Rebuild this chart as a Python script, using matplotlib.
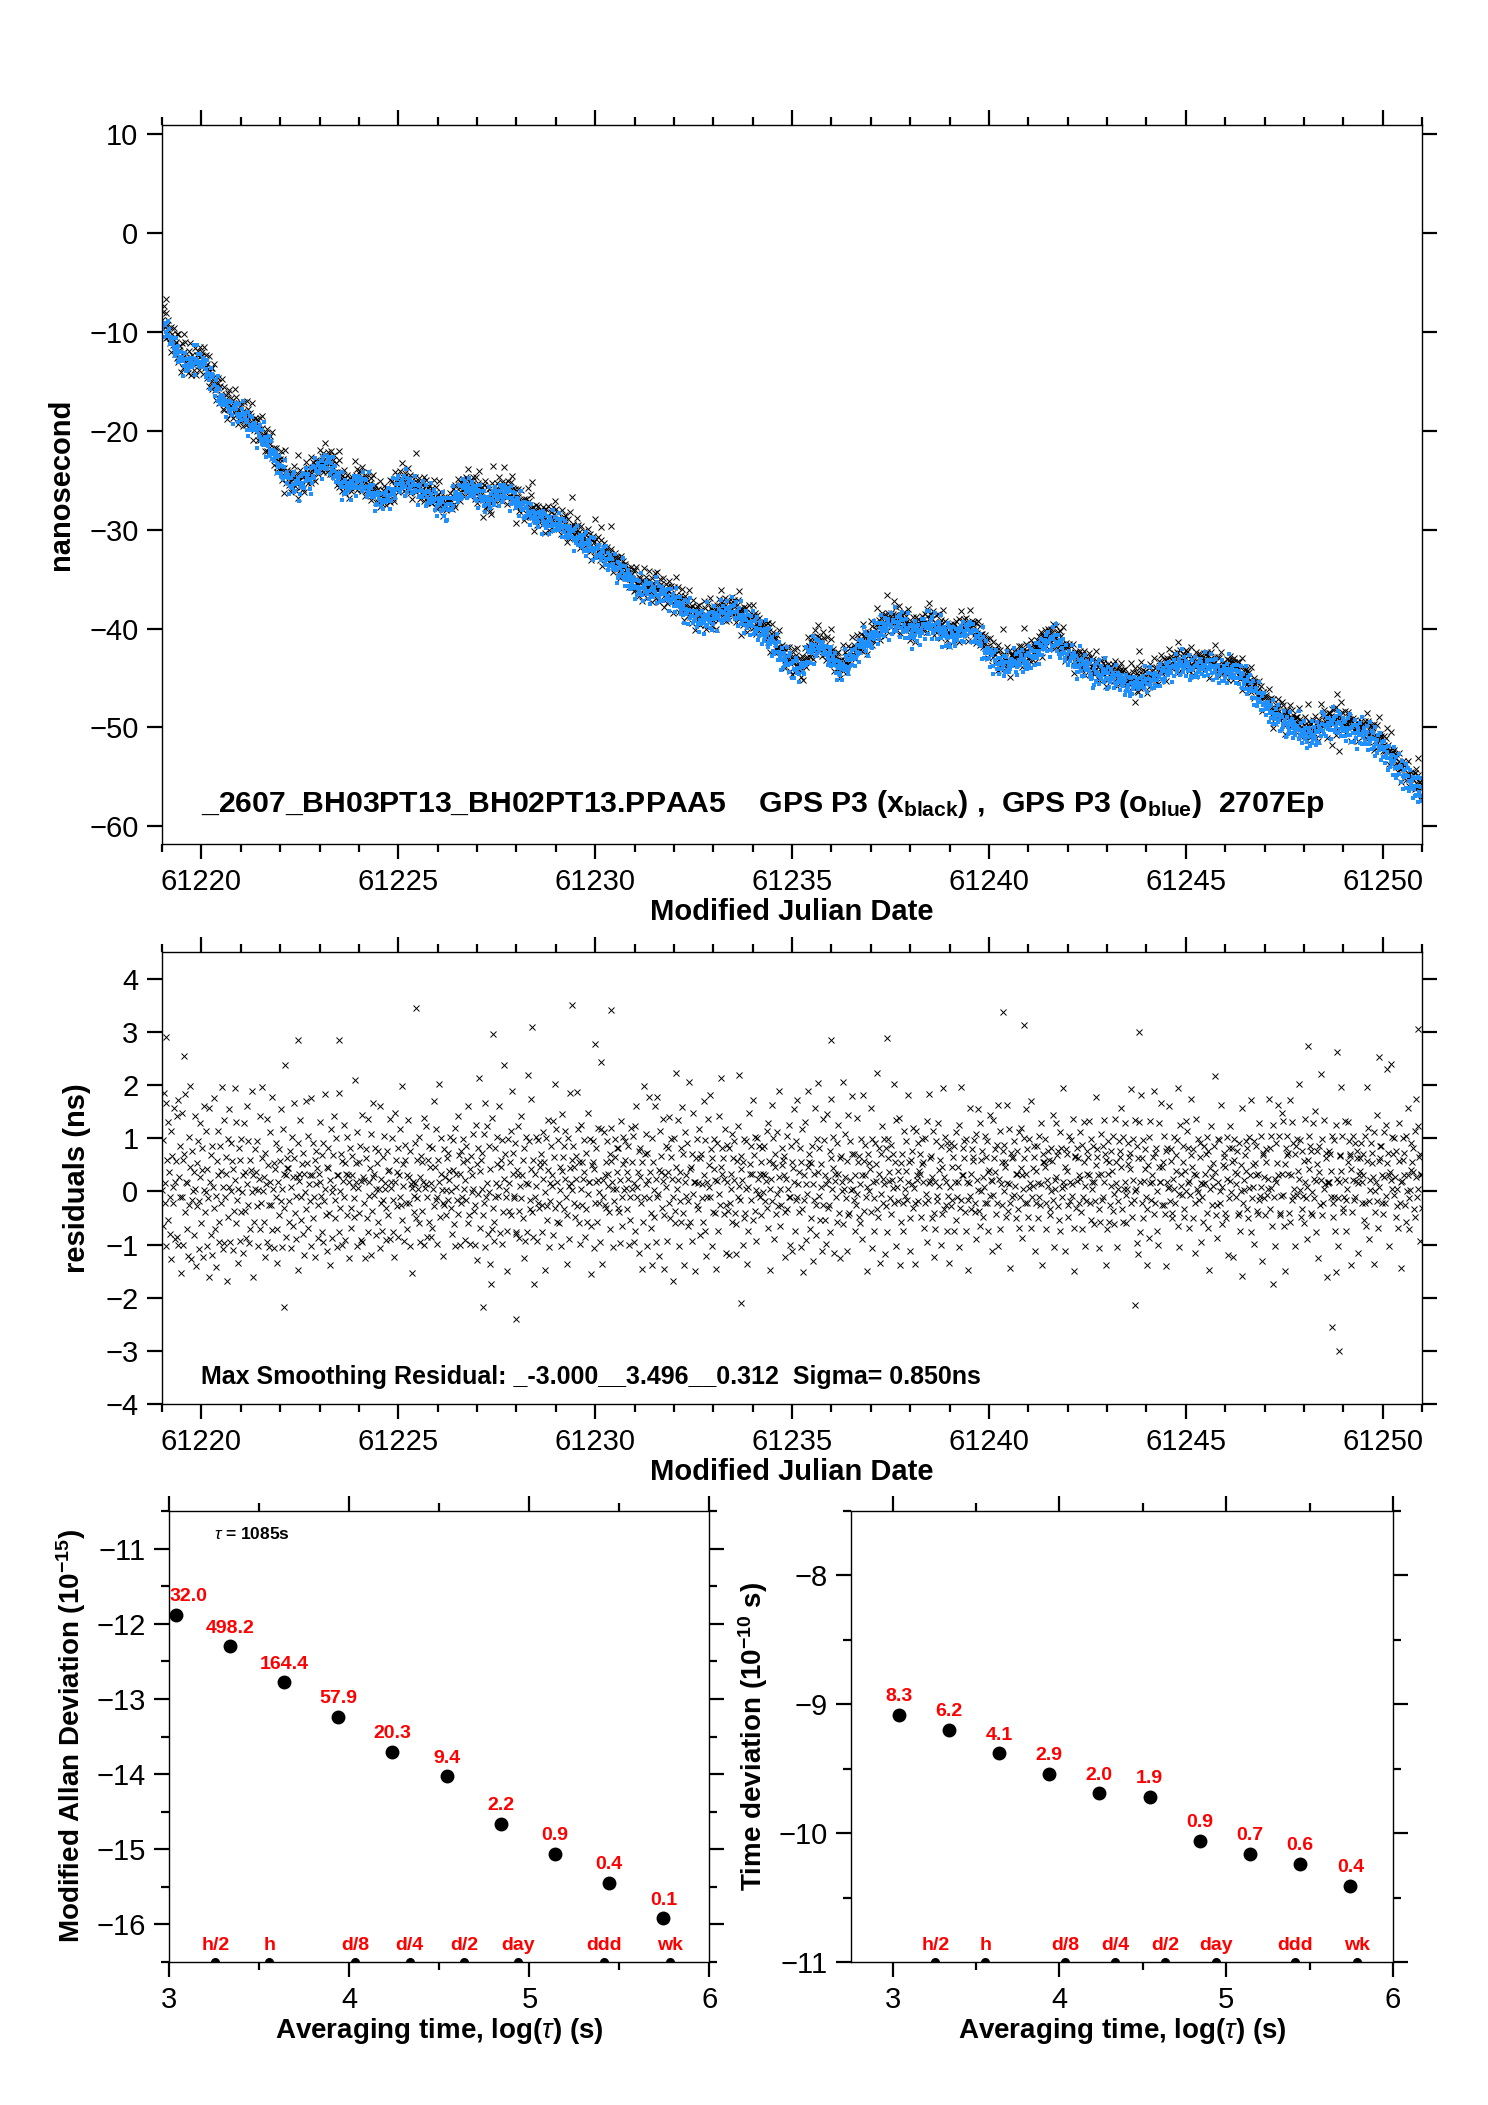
import numpy as np
import matplotlib
matplotlib.use("Agg")
import matplotlib.pyplot as plt
from matplotlib import font_manager
from matplotlib.ticker import MultipleLocator

# ---------------- data ----------------
# smoothed clock offset (ns), one value every 0.25 day starting at MJD 61219.0
knot_start, knot_step = 61219.0, 0.25
trend_ns = [
    -8.5, -10.5, -12.3, -12.8, -12.4, -14.0, -16.3, -17.2, -17.8, -18.6, -19.9, -21.3,
    -23.2, -24.8, -25.0, -24.2, -23.0, -22.6, -24.6, -25.3, -24.5, -25.3, -26.4, -26.2,
    -25.0, -24.8, -25.5, -26.0, -26.6, -27.4, -26.0, -25.1, -25.7, -26.6, -26.0, -25.6,
    -26.6, -27.6, -28.2, -28.6, -28.8, -29.4, -30.2, -30.9, -31.4, -32.2, -33.1, -34.0,
    -35.0, -35.6, -35.6, -36.0, -36.5, -37.4, -38.3, -38.6, -38.4, -37.8, -37.6, -38.4,
    -39.0, -39.8, -40.9, -42.2, -43.2, -43.6, -41.5, -41.3, -42.6, -43.6, -42.5, -41.2,
    -40.5, -39.4, -39.0, -38.8, -39.8, -39.6, -38.8, -39.6, -40.2, -40.0, -39.4, -40.6,
    -42.0, -43.0, -43.2, -42.6, -42.8, -41.6, -40.5, -40.8, -42.2, -43.0, -43.4, -43.8,
    -44.2, -44.4, -45.2, -45.0, -44.8, -44.4, -43.6, -43.0, -43.2, -43.4, -43.0, -43.5,
    -43.8, -43.6, -44.6, -45.8, -47.0, -48.2, -48.8, -49.4, -50.0, -50.2, -49.3, -48.8,
    -49.2, -49.8, -50.0, -50.4, -51.6, -52.8, -54.0, -55.2, -56.2]

# residual level (ns) of each code character
digits = "0123456789ABCDEFGHIJKLMNOPQRSTUVWXYZabcdefghijklmnopqrstuvwxyz"
res_levels = [
    -2.3, -2.22, -2.14, -2.06, -1.98, -1.9, -1.84, -1.78, -1.72, -1.66,  # 0-9
    -1.62, -1.58,                                                         # A B
    -1.55, -1.5, -1.45, -1.4, -1.35, -1.3, -1.26, -1.22,                  # C-J
    -1.18, -1.1, -1.03, -0.96, -0.89, -0.82,                              # K-P
    -0.68, -0.48, -0.31, -0.16, -0.02, 0.11, 0.24, 0.36, 0.49, 0.62,      # Q-Z
    0.76, 0.91, 1.08, 1.28,                                               # a-d
    1.38, 1.48, 1.57,                                                     # e-g
    1.64, 1.72, 1.8, 1.88, 1.96, 2.04, 2.12, 2.2,                         # h-o
    2.28, 2.34, 2.4, 2.46, 2.52, 2.58, 2.62, 2.66, 2.7, 2.74, 2.78]       # p-z

# residuals, one character per epoch
res_code = "".join([
    "VbQkTWMhZRdXOUcJaVSgNWYePiLXbTDUfMZaRjVQWHcSYmKTaU",
    "XOeVGZSbTMWdQYaKVhRUcNXTBfWPZbLVSiQUEYcWRNaTXlMVdO",
    "TZWAcRVgOUbYLXSmWQdTFVaNZRcUWKeSXPhVTbMZQYjUWCRaVX",
    "SbNVWeQTZkURXHaVOdYLTWcSjPVZMXbUGQWaRYfTVNcXSpOWZY",
    "YRTaVMcWQZgSNUXbEWVdTRYOaLWUhSZcQVTXiNWRbUZKVaYPTW",
    "WdUQZNbTVjRXMaYSGWcUPZVeTRbNXWkQSUaLYVdTZOWcRXIVbS",
    "QXaVTRnWZMcUSYbPVeNXTWJaZRQdUVYLcSWhTXbOVZaRUgMWSQ",
    "ZTcWVSOaXRYdNUWbQTKVfZSXPaWcUTRmYVNZbSWQdXTaMVUEWR",
    "UWbRZTVcQXNaYSWeMUVdPTZRbXOWaQVhSYTcUNZWlRXbVTKSaW",
    "RVZaTXWcSUOYbQNdVWTfRZMXaSUcYVPWbTZgQRXNaUWVcSLTdY",
    "GbUoXQZaVRcSNiTdWOUbXF8eQSMRaTWcYUhVPXZbNRqWaTVDQc",
    "WSZcRkaXUTbQOYWdSNVTeXRZaIMWcQnVbTSjXRPZ9WUcVNTbSY",
    "XaTQWcZEUbSRYdNTWaVXOeZSmcRWbQTYVMfXZaSWcURHbNVYkW",
    "ZVbTXRWaSlcQYNdVTZWbXOSaRUeVWcDQYZbMXSaVRWdTUNrcHW",
    "UcWTZSbXVRaQYdWNUTcZVbXSaRWOeTQYcVZbUXSWaMRTdVYcWN",
    "dQhTVXLaWbSCYRmUZcVNaWTiXSQEbZVRgWOTjUYKcXaSdVRFWb",
    "VNaXfTRZcWAUbSQoYVdWMTXaRhZSGcVUWbQTlXRYaNUeWVDZcS",
    "SWcPZaVTRiXbQHUWdYVkTaNZRcXWSFbVQeUTmYXaZRWcLTbVSJ",
    "aTVXcRZWbSIQYUdVnTXaWMZcRSbUEVQfYWTaXjRZcSVNbWUaTX",
    "ZRbWUaXTVcSQeYDVWgTZbNXaRcUSkWVQTbYZaXHRWcSVdTMUaZ",
    "MYgWQbTUiVRXaZNcSEWTdVPUkXaYQRZbJVTWfSOcXmUaRVYLdT",
    "bXRNVfWSTaQhZUYcKWVTbRXdSGZaWUnQVXcTLYeRSWbVZjUTaQ",
    "WTeUZaRVQcXNiYSbWTDVaZUXgRcMWQTbVYoSRaXFUZdWTcVKSb",
    "QZcVXTRbWaUSlYNdVXTeWGZRaSQcUVbXTiWYMRZaVSdUTEcXWb",
    "TXaWRYcZVQbSUNeTjWVZaRXcSHQWbUTdVYZaLXRmSWcTVbQUFa",
    "VSbXTZQaWRcUVYdNSTkWXaZbRQcVETWgUXSaZYbTRcNWVhSQdZ",
    "UaRWVcTZbSXQYeUWMVdTZaXRbSNiWcQVTZaUbXYRgWSVcDTaZU",
    "ZbTVXRaWSQcUYdWNVZbTfXaSRUcWhQTVYZbLXSaWRcUTdVEZaY",
    "XcQTWVaZRSbUYeTNVWdXZaSRcQbUTkWVYMaXZRScWTbUVdQFaZ",
    "SaVZXTcWRbQUYdVNTWaZeXSRcUVbWQTjYZaXMSRcWTbUVdaGZQ",
    "WbZRTVaXcSUQdYWNVTbZaXgSRcUWeQTVYbZaXlSRWcTUdVbOZI",
    "dWQiTZRbVXaUGSYcNWeTVXZkRaSbQUMdYWVhTXZcSRaFWbUVgT",
    "YaSRWcVTZXbQmUNdVWTaZSRXeUcWbVQTjZYaRXKSdWVUcTZbOW",
    "TRVbWXZcSaQEUYdWTVZaXoRSNcWbUTgVQYZaXSRWcLTbVdUZaH",
    "cZXVTWaRbSQUYfDTWVZbXaSRUcWiQTVYbNZaXSRWdTUcVJZaWT",
    "RZaTVWhbScUQ8dTNWVbZiXcRSUfWTeQDYbcZaXSRjWdTUbVNZa",
    "TcXWmVbRSaUQYdWTNVZcXbSaRUeWTgQVYaIbXSnWRcTUdVZaBW",
    "VaWZTXcRSbUQdEWNTVaZkXcSRUWeTQVdYbZaXHRcWTUbVZaKWX",
    "ZXbTVWaRcSQlYdTNWVbZaXcFRUWeTQVYbZaXSRcWTUdrZaMWXq",
    "WVcZTbXaRSUQdYTGWVZbXaSRcUWfTQVYbZaXSRcWhUdVZaNWXS",
])

# extreme residuals that stand out in the lower panel
out_mjd = [61219.1, 61219.55, 61222.45, 61223.5, 61225.45, 61227.4, 61228.4, 61229.4,
           61230.0, 61230.4, 61236.0, 61237.4, 61240.35, 61240.9, 61243.8, 61248.1,
           61248.85, 61249.9, 61250.9, 61222.1, 61227.15, 61228.0, 61233.7, 61243.7,
           61248.7, 61248.9]
out_res = [2.9, 2.55, 2.84, 2.84, 3.45, 2.96, 3.09, 3.5, 2.78, 3.42, 2.84, 2.89, 3.37,
           3.12, 2.99, 2.73, 2.63, 2.53, 3.06, -2.18, -2.18, -2.41, -2.1, -2.13, -2.56, -3.0]
blue_shift = -0.5

# stability analysis
logtau = [3.035, 3.336, 3.637, 3.938, 4.239, 4.540, 4.841, 5.142, 5.443, 5.744]
madev_log = [-11.88, -12.30, -12.78, -13.24, -13.70, -14.03, -14.66, -15.06, -15.45, -15.92]
madev_lab = ['32.0', '498.2', '164.4', '57.9', '20.3', '9.4', '2.2', '0.9', '0.4', '0.1']
tdev_log = [-9.08, -9.20, -9.38, -9.54, -9.69, -9.72, -10.06, -10.16, -10.24, -10.41]
tdev_lab = ['8.3', '6.2', '4.1', '2.9', '2.0', '1.9', '0.9', '0.7', '0.6', '0.4']
span_lab = ['h/2', 'h', 'd/8', 'd/4', 'd/2', 'day', 'ddd', 'wk']
span_sec = [1800, 3600, 10800, 21600, 43200, 86400, 259200, 604800]

# ---------------- fonts ----------------
names = {f.name for f in font_manager.fontManager.ttflist}
fam = 'Liberation Sans Narrow' if 'Liberation Sans Narrow' in names else 'Liberation Sans'
plt.rcParams['font.family'] = [fam, 'DejaVu Sans']
plt.rcParams['mathtext.fontset'] = 'custom'
plt.rcParams['mathtext.rm'] = fam
plt.rcParams['mathtext.bf'] = fam + ':bold'
plt.rcParams['mathtext.it'] = fam + ':italic'

# ---------------- series ----------------
code_idx = np.array([digits.index(c) for c in res_code])
# the reversed code splits each level into finer sub-steps
fine = ((code_idx[::-1] % 7) - 3) * 0.03
res = np.array(res_levels)[code_idx] + fine
mjd = np.linspace(61219.0, 61251.0, len(res))
knot_mjd = knot_start + knot_step * np.arange(len(trend_ns))
trend = np.interp(mjd, knot_mjd, trend_ns)
black = trend + res - 0.3
blue = trend + blue_shift + 0.9 * (res[::-1] - 0.3)
black_out = np.interp(out_mjd, knot_mjd, trend_ns) + np.array(out_res) - 0.3

fig = plt.figure(figsize=(14.88, 21.05), dpi=100)


def style(ax, lab=21):
    for s in ax.spines.values():
        s.set_linewidth(1.0)
    ax.tick_params(which='both', direction='out', top=True, right=True, width=1.6,
                   labelsize=lab, pad=6)
    ax.tick_params(which='major', length=11)
    ax.tick_params(which='minor', length=6)


# top panel: raw offsets
ax1 = fig.add_axes([0.1089, 0.5990, 0.8468, 0.3416])
ax1.plot(mjd, black, 'x', color='k', ms=4.5, mew=0.7)
ax1.plot(out_mjd, black_out, 'x', color='k', ms=4.5, mew=0.7)
ax1.plot(mjd, blue, 's', color='#1e90ff', ms=2.7, mew=0)
ax1.set_xlim(61219.0, 61251.0)
ax1.set_ylim(-61.8, 10.95)
ax1.xaxis.set_major_locator(MultipleLocator(5))
ax1.xaxis.set_minor_locator(MultipleLocator(1))
ax1.yaxis.set_major_locator(MultipleLocator(10))
style(ax1)
ax1.set_xlabel('Modified Julian Date', fontsize=21, fontweight='bold', labelpad=2)
ax1.set_ylabel('nanosecond', fontsize=21, fontweight='bold', labelpad=10)
ax1.text(61220.0, -58.6,
         r'_2607_BH03PT13_BH02PT13.PPAA5    GPS P3 (x$_{\mathbf{black}}$) ,  '
         r'GPS P3 (o$_{\mathbf{blue}}$)  2707Ep',
         fontsize=21.7, fontweight='bold', va='baseline')

# middle panel: residuals
ax2 = fig.add_axes([0.1089, 0.3330, 0.8468, 0.2147])
ax2.plot(mjd, res, 'x', color='k', ms=4.5, mew=0.7)
ax2.plot(out_mjd, out_res, 'x', color='k', ms=4.5, mew=0.7)
ax2.set_xlim(61219.0, 61251.0)
ax2.set_ylim(-4, 4.5)
ax2.xaxis.set_major_locator(MultipleLocator(5))
ax2.xaxis.set_minor_locator(MultipleLocator(1))
ax2.yaxis.set_major_locator(MultipleLocator(1))
style(ax2)
ax2.set_xlabel('Modified Julian Date', fontsize=21, fontweight='bold', labelpad=2)
ax2.set_ylabel('residuals (ns)', fontsize=21, fontweight='bold', labelpad=10)
ax2.text(61220.0, -3.62,
         'Max Smoothing Residual: _-3.000__3.496__0.312  Sigma= 0.850ns',
         fontsize=18, fontweight='bold', va='baseline')

span_x = np.log10(span_sec)

# bottom left: modified Allan deviation
ax3 = fig.add_axes([0.1138, 0.0679, 0.3630, 0.2143])
ax3.plot(logtau, madev_log, 'o', color='k', ms=9)
ax3.plot(span_x, [-16.5] * len(span_x), 'o', color='k', ms=5.5, clip_on=True)
for i, (x, y, t) in enumerate(zip(logtau, madev_log, madev_lab)):
    if i == 0:
        ax3.annotate(t, (3.0, y), xytext=(0, 7), textcoords='offset points',
                     ha='left', va='bottom', color='red', fontsize=14, fontweight='bold')
    else:
        ax3.annotate(t, (x, y), xytext=(0, 7), textcoords='offset points',
                     ha='center', va='bottom', color='red', fontsize=14, fontweight='bold')
for x, t in zip(span_x, span_lab):
    ax3.annotate(t, (x, -16.5), xytext=(0, 6), textcoords='offset points',
                 ha='center', va='bottom', color='red', fontsize=14, fontweight='bold')
ax3.text(3.25, -10.8, r'$\tau$ = 1085s', fontsize=12.5, fontweight='bold', va='center')
ax3.set_xlim(3, 6)
ax3.set_ylim(-16.5, -10.5)
ax3.xaxis.set_major_locator(MultipleLocator(1))
ax3.xaxis.set_minor_locator(MultipleLocator(0.5))
ax3.yaxis.set_major_locator(MultipleLocator(1))
ax3.yaxis.set_minor_locator(MultipleLocator(0.5))
style(ax3, lab=21)
ax3.set_xlabel(r'Averaging time, log($\tau$) (s)', fontsize=20, fontweight='bold', labelpad=2)
ax3.set_ylabel(r'Modified Allan Deviation (10$^{\mathbf{-15}}$)', fontsize=20,
               fontweight='bold', labelpad=6)

# bottom right: time deviation
ax4 = fig.add_axes([0.5719, 0.0679, 0.3643, 0.2143])
ax4.plot(logtau, tdev_log, 'o', color='k', ms=9)
ax4.plot(span_x, [-11] * len(span_x), 'o', color='k', ms=5.5, clip_on=True)
for x, y, t in zip(logtau, tdev_log, tdev_lab):
    ax4.annotate(t, (x, y), xytext=(0, 7), textcoords='offset points',
                 ha='center', va='bottom', color='red', fontsize=14, fontweight='bold')
for x, t in zip(span_x, span_lab):
    ax4.annotate(t, (x, -11), xytext=(0, 6), textcoords='offset points',
                 ha='center', va='bottom', color='red', fontsize=14, fontweight='bold')
ax4.set_xlim(2.75, 6)
ax4.set_ylim(-11, -7.5)
ax4.xaxis.set_major_locator(MultipleLocator(1))
ax4.xaxis.set_minor_locator(MultipleLocator(0.5))
ax4.yaxis.set_major_locator(MultipleLocator(1))
ax4.yaxis.set_minor_locator(MultipleLocator(0.5))
style(ax4, lab=21)
ax4.set_xlabel(r'Averaging time, log($\tau$) (s)', fontsize=20, fontweight='bold', labelpad=2)
ax4.set_ylabel(r'Time deviation (10$^{\mathbf{-10}}$ s)', fontsize=20,
               fontweight='bold', labelpad=6)

fig.savefig('out.png', dpi=100)
